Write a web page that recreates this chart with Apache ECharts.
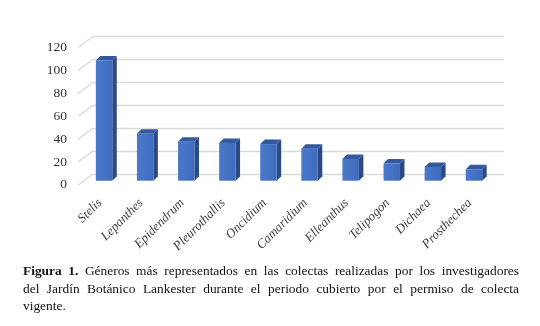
<!DOCTYPE html>
<html>
<head>
<meta charset="utf-8">
<script src="https://cdn.jsdelivr.net/npm/echarts@6/dist/echarts.min.js"></script>
<style>
html,body{margin:0;padding:0;background:#fff;}
#chart{position:absolute;left:0;top:0;width:540px;height:326px;}
#cap{position:absolute;left:23px;top:262px;width:496px;font-family:"Liberation Serif","Times New Roman",serif;font-size:13.4px;line-height:17.5px;color:#111;}
#cap div{white-space:nowrap;}
#cap .j{text-align:justify;text-align-last:justify;}
</style>
</head>
<body>
<div id="chart"></div>
<div id="cap">
<div class="j"><b>Figura 1.</b> Géneros más representados en las colectas realizadas por los investigadores</div>
<div class="j">del Jardín Botánico Lankester durante el periodo cubierto por el permiso de colecta</div>
<div>vigente.</div>
</div>
<script>
const categories = ["Stelis","Lepanthes","Epidendrum","Pleurothallis","Oncidium","Camaridium","Elleanthus","Telipogon","Dichaea","Prosthechea"];
const values = [105, 41, 34, 33, 32, 28, 19, 15, 12, 10];
const yTicks = [0, 20, 40, 60, 80, 100, 120];

const chart = echarts.init(document.getElementById('chart'));
const DX = -9.5, DY = 6.7, SX = 4.5, SY = -4.5;
const FRONT = '#4472C4', SIDE = '#2B4A85', TOP = '#3559A0';

function barItem(params, api) {
  const c = api.coord([api.value(0), api.value(1)]);
  const z = api.coord([api.value(0), 0]);
  const w = api.size([1, 0])[0] * 0.40;
  const xl = c[0] + DX - w / 2, xr = c[0] + DX + w / 2;
  const yt = c[1] + DY, yb = z[1] + DY;
  return {
    type: 'group',
    children: [
      { type: 'polygon', shape: { points: [[xr, yt], [xr + SX, yt + SY], [xr + SX, yb + SY], [xr, yb]] }, style: { fill: SIDE } },
      { type: 'polygon', shape: { points: [[xl, yt], [xl + SX, yt + SY], [xr + SX, yt + SY], [xr, yt]] }, style: { fill: TOP } },
      { type: 'rect', shape: { x: xl, y: yt, width: xr - xl, height: yb - yt }, style: { fill: {
        type: 'linear', x: 0, y: 0, x2: 1, y2: 0,
        colorStops: [{ offset: 0, color: '#4a78cc' }, { offset: 0.5, color: FRONT }, { offset: 1, color: '#3f6bbb' }] } } }
    ]
  };
}

function diagItem(params, api) {
  const p = api.coord([0, api.value(1)]);
  const x0 = params.coordSys.x;
  return {
    type: 'line',
    shape: { x1: x0, y1: p[1], x2: x0 - 15, y2: p[1] + 11 },
    style: { stroke: '#d9d9d9', lineWidth: 1.3 }
  };
}

chart.setOption({
  animation: false,
  grid: [
    { left: 93, right: 36, top: 36.6, height: 137.4 },
    { left: 79.5, width: 411, top: 47.5, height: 137.4 }
  ],
  xAxis: [
    { gridIndex: 0, type: 'category', data: categories, show: false },
    { gridIndex: 1, type: 'category', data: categories,
      axisLine: { show: false }, axisTick: { show: false },
      axisLabel: { interval: 0, rotate: 45, margin: 16, fontFamily: 'Liberation Serif', fontStyle: 'italic', fontSize: 13, color: '#404040' } }
  ],
  yAxis: [
    { gridIndex: 0, type: 'value', min: 0, max: 120, interval: 20,
      axisLabel: { show: false }, axisLine: { show: false }, axisTick: { show: false },
      splitLine: { lineStyle: { color: '#d9d9d9', width: 1.3 } } },
    { gridIndex: 1, type: 'value', min: 0, max: 120, interval: 20,
      axisLine: { show: false }, axisTick: { show: false }, splitLine: { show: false },
      axisLabel: { margin: 12.5, fontFamily: 'Liberation Serif', fontSize: 13.5, color: '#333',
        formatter: v => yTicks.includes(v) ? String(v) : '' } }
  ],
  series: [
    { type: 'custom', xAxisIndex: 0, yAxisIndex: 0, renderItem: diagItem,
      data: yTicks.map(t => [0, t]), silent: true, z: 1 },
    { type: 'custom', xAxisIndex: 0, yAxisIndex: 0, renderItem: barItem,
      data: values.map((v, i) => [i, v]), z: 3 }
  ]
});
</script>
</body>
</html>
